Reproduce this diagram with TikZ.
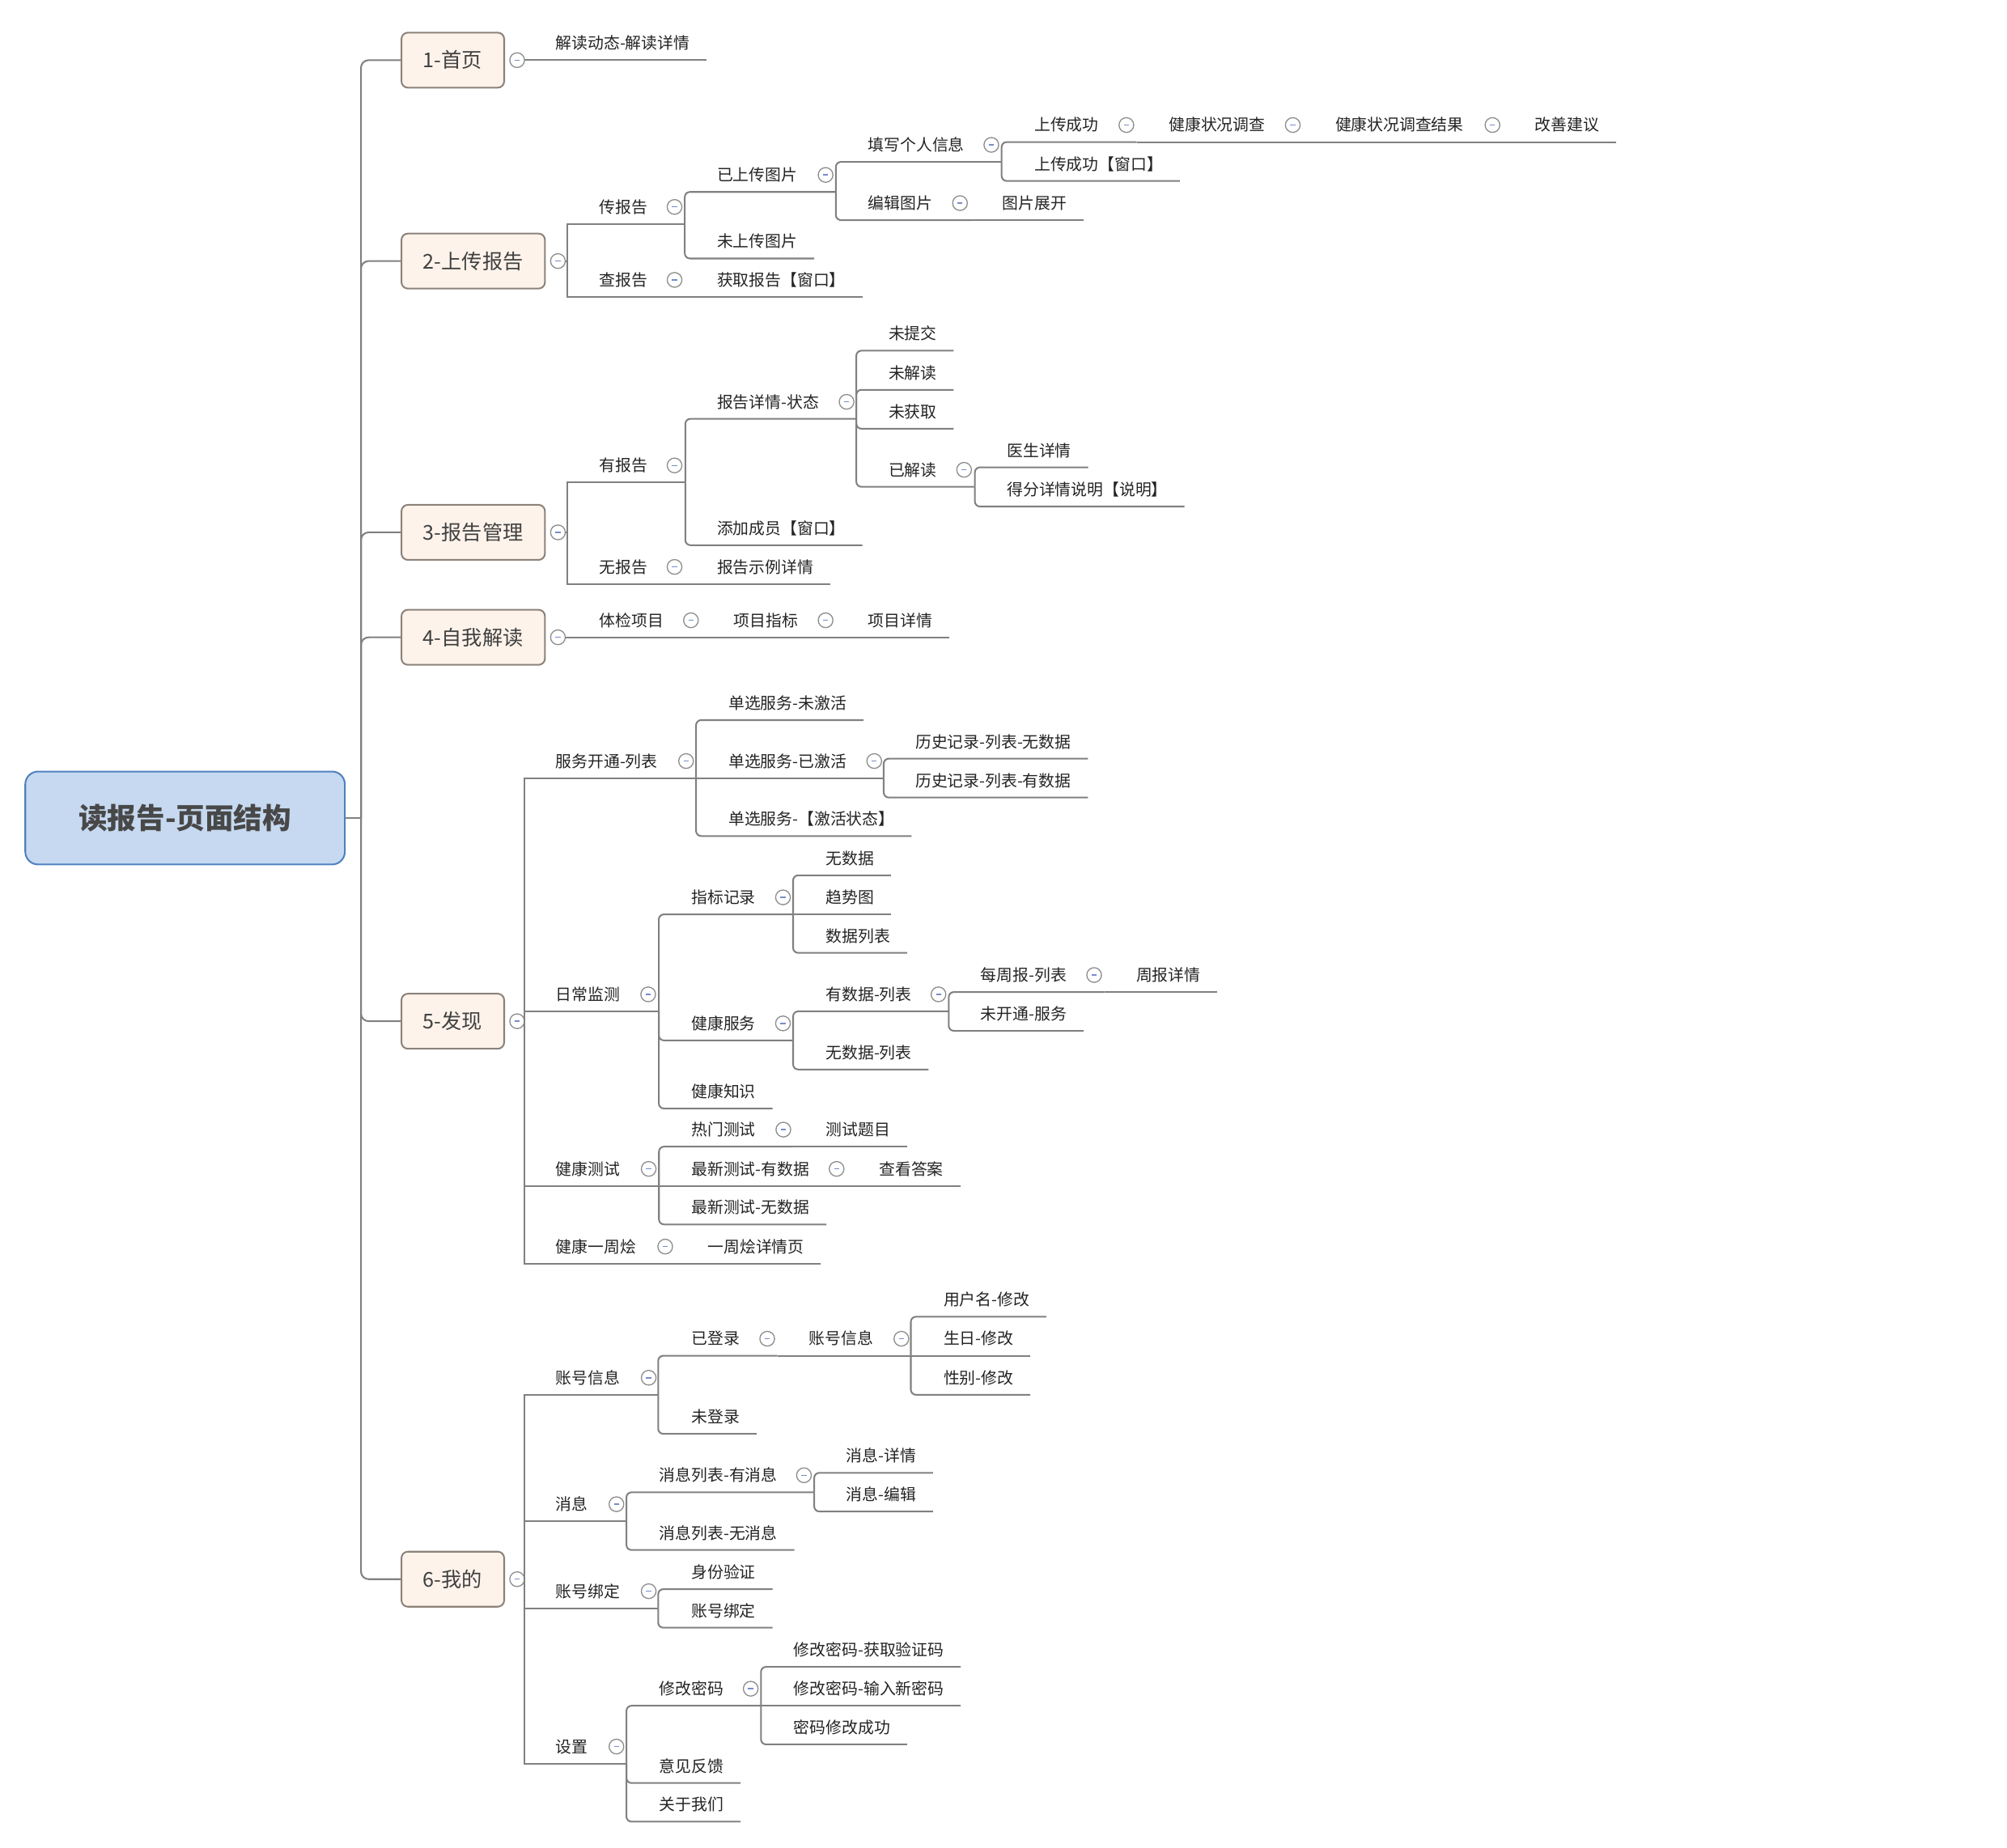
\documentclass[tikz,border=0pt]{standalone}
\usepackage{fontspec}
\setmainfont{Noto Sans CJK SC}
\usetikzlibrary{positioning,calc}
\definecolor{mmline}{RGB}{128,128,128}
\definecolor{mmtext}{RGB}{35,35,35}
\definecolor{mmfold}{RGB}{140,140,140}
\definecolor{mmminus}{RGB}{120,140,200}
\definecolor{topicfill}{RGB}{253,243,234}
\definecolor{topicdraw}{RGB}{140,130,122}
\definecolor{rootfill}{RGB}{198,217,240}
\definecolor{rootdraw}{RGB}{79,129,189}
\definecolor{roottext}{RGB}{72,72,72}

\tikzset{
  lbl/.style={font=\fontsize{10.7pt}{12pt}\selectfont, text=mmtext, anchor=base west, inner sep=0pt},
  ln/.style={draw=mmline, line width=1.1pt, rounded corners=1.2mm},
  fold/.style={circle, draw=mmfold, fill=white, line width=0.7pt, minimum size=3.45mm, inner sep=0pt,
    path picture={\draw[mmminus, line width=0.8pt] ($(path picture bounding box.center)+(-0.6mm,0)$) -- ++(1.2mm,0);}},
  topic/.style={draw=topicdraw, fill=topicfill, line width=1.1pt, rounded corners=1.5mm, anchor=west,
    font=\fontsize{13.6pt}{16pt}\selectfont, text=black!75, minimum height=12.9mm, inner xsep=5.1mm, inner ysep=0pt},
  rootbox/.style={draw=rootdraw, fill=rootfill, line width=1.1pt, rounded corners=3mm,
    font=\fontsize{19.2pt}{22pt}\selectfont\bfseries, text=roottext, minimum width=74.9mm, minimum height=21.8mm}
}

% leaf: name, parent branch, x, underline y, text
\newcommand{\leafnode}[6][]{%
  \node[lbl] (#2) at (#4,#5-8.6) {#6};
  \draw[ln,#1] (#3) |- ($(#2.base east)+(13,8.6)$);}
% inner node: name, parent branch, x, underline y, text, fold x, branch x
\newcommand{\midnode}[8][]{%
  \node[lbl] (#2) at (#4,#5-8.6) {#6};
  \node[fold] (#2-f) at (#7,#5-13.3) {};
  \coordinate (#2-b) at (#8,#5);
  \draw[ln,#1] (#3) |- (#2-b);}

\begin{document}
\begin{tikzpicture}[x=0.3mm,y=-0.3mm]
  \useasboundingbox (0,0) rectangle (1568,1444);

  % Root
  \node[rootbox] (root) at (144.6,639.2) {读报告-页面结构};
  \coordinate (rootb) at (282,639.2);
  \draw[ln] (root.east) -- (rootb);

  % Main topics
  \foreach \i/\txt/\yy in {1/1-首页/47, 2/2-上传报告/204, 3/3-报告管理/416,
                           4/4-自我解读/498, 5/5-发现/798, 6/6-我的/1234}{
    \node[topic] (t\i) at (313,\yy) {\txt};
    \node[fold, right=1mm of t\i] (f\i) {};
    \draw[ln, rounded corners=1.8mm] (rootb) |- (t\i.west);
  }
  \coordinate (b2) at (443,204);
  \coordinate (b3) at (443,416);
  \coordinate (b5) at (410,798);
  \coordinate (b6) at (410,1234);
  \foreach \i in {2,3,5,6}{\draw[ln] (f\i) -- (b\i);}

  % 1-首页
  \leafnode[sharp corners]{n1a}{f1.east}{434}{47}{解读动态-解读详情}

  % 2-上传报告
  \midnode[sharp corners]{n2a}{b2}{468}{175}{传报告}{527}{535}
  \midnode{n2aa}{n2a-b}{560}{150}{已上传图片}{645}{653}
  \midnode{n2aaa}{n2aa-b}{678}{126.5}{填写个人信息}{774.5}{782.5}
  \midnode{n2aaaa}{n2aaa-b}{808}{111}{上传成功}{880}{888}
  \midnode[sharp corners]{n2aaaaa}{n2aaaa-b}{913}{111}{健康状况调查}{1010}{1018}
  \midnode[sharp corners]{n2aaaaaa}{n2aaaaa-b}{1043}{111}{健康状况调查结果}{1166}{1174}
  \leafnode[sharp corners]{n2aaaaaaa}{n2aaaaaa-b}{1199}{111}{改善建议}
  \leafnode{n2aaab}{n2aaa-b}{808}{141.4}{上传成功【窗口】}
  \midnode{n2aab}{n2aa-b}{678}{172}{编辑图片}{750}{758}
  \leafnode[sharp corners]{n2aaba}{n2aab-b}{783}{172}{图片展开}
  \leafnode{n2ab}{n2a-b}{560}{202}{未上传图片}
  \midnode[sharp corners]{n2b}{b2}{468}{232}{查报告}{527}{535}
  \leafnode[sharp corners]{n2ba}{n2b-b}{560}{232}{获取报告【窗口】}

  % 3-报告管理
  \midnode[sharp corners]{n3a}{b3}{468}{377}{有报告}{527}{535.4}
  \midnode{n3aa}{n3a-b}{560}{327.3}{报告详情-状态}{661.4}{669}
  \leafnode{n3aaa}{n3aa-b}{694}{274}{未提交}
  \leafnode{n3aab}{n3aa-b}{694}{304.6}{未解读}
  \leafnode{n3aac}{n3aa-b}{694}{335}{未获取}
  \midnode{n3aad}{n3aa-b}{694}{380.4}{已解读}{753.2}{761.6}
  \leafnode{n3aada}{n3aad-b}{786.6}{365.2}{医生详情}
  \leafnode{n3aadb}{n3aad-b}{786.6}{395.8}{得分详情说明【说明】}
  \leafnode{n3ab}{n3a-b}{560}{426}{添加成员【窗口】}
  \midnode[sharp corners]{n3b}{b3}{468}{456.3}{无报告}{527}{535}
  \leafnode[sharp corners]{n3ba}{n3b-b}{560}{456.3}{报告示例详情}

  % 4-自我解读
  \midnode[sharp corners]{n4a}{f4.east}{468}{498}{体检项目}{539.8}{548}
  \midnode[sharp corners]{n4aa}{n4a-b}{573}{498}{项目指标}{645}{653}
  \leafnode[sharp corners]{n4aaa}{n4aa-b}{678}{498}{项目详情}

  % 5-发现
  \midnode[sharp corners]{n5a}{b5}{434}{608}{服务开通-列表}{536}{543.8}
  \leafnode{n5aa}{n5a-b}{569}{562.7}{单选服务-未激活}
  \midnode[sharp corners]{n5ab}{n5a-b}{569}{608}{单选服务-已激活}{683}{690.4}
  \leafnode{n5aba}{n5ab-b}{715}{592.8}{历史记录-列表-无数据}
  \leafnode{n5abb}{n5ab-b}{715}{623.2}{历史记录-列表-有数据}
  \leafnode{n5ac}{n5a-b}{569}{653.3}{单选服务-【激活状态】}
  \midnode[sharp corners]{n5b}{b5}{434}{790.3}{日常监测}{506.4}{514.7}
  \midnode{n5ba}{n5b-b}{540}{714.5}{指标记录}{611.7}{619.6}
  \leafnode{n5baa}{n5ba-b}{645}{684}{无数据}
  \leafnode[sharp corners]{n5bab}{n5ba-b}{645}{714.5}{趋势图}
  \leafnode{n5bac}{n5ba-b}{645}{744.6}{数据列表}
  \midnode{n5bb}{n5b-b}{540}{813}{健康服务}{611.7}{619.6}
  \midnode{n5bba}{n5bb-b}{645}{790.3}{有数据-列表}{733.2}{741.2}
  \midnode{n5bbaa}{n5bba-b}{766}{775.2}{每周报-列表}{854.8}{862.8}
  \leafnode[sharp corners]{n5bbaaa}{n5bbaa-b}{887.5}{775.2}{周报详情}
  \leafnode{n5bbab}{n5bba-b}{766}{805.5}{未开通-服务}
  \leafnode{n5bbb}{n5bb-b}{645}{835.7}{无数据-列表}
  \leafnode{n5bc}{n5b-b}{540}{866.2}{健康知识}
  \midnode[sharp corners]{n5c}{b5}{434}{926.7}{健康测试}{506.8}{514.8}
  \midnode{n5ca}{n5c-b}{540}{896}{热门测试}{612}{620}
  \leafnode[sharp corners]{n5caa}{n5ca-b}{645}{896}{测试题目}
  \midnode[sharp corners]{n5cb}{n5c-b}{540}{926.7}{最新测试-有数据}{653.6}{661.6}
  \leafnode[sharp corners]{n5cba}{n5cb-b}{686.7}{926.7}{查看答案}
  \leafnode{n5cc}{n5c-b}{540}{956.8}{最新测试-无数据}
  \midnode[sharp corners]{n5d}{b5}{434}{987.4}{健康一周烩}{519.7}{527.7}
  \leafnode[sharp corners]{n5da}{n5d-b}{552.7}{987.4}{一周烩详情页}

  % 6-我的
  \midnode[sharp corners]{n6a}{b6}{434}{1089.9}{账号信息}{506.8}{514.2}
  \midnode{n6aa}{n6a-b}{540}{1059.4}{已登录}{599.4}{607.4}
  \midnode[sharp corners]{n6aaa}{n6aa-b}{632}{1059.4}{账号信息}{704.2}{711.6}
  \leafnode{n6aaaa}{n6aaa-b}{737}{1028.9}{用户名-修改}
  \leafnode[sharp corners]{n6aaab}{n6aaa-b}{737}{1059.4}{生日-修改}
  \leafnode{n6aaac}{n6aaa-b}{737}{1089.9}{性别-修改}
  \leafnode{n6ab}{n6a-b}{540}{1120.4}{未登录}
  \midnode[sharp corners]{n6b}{b6}{434}{1188.7}{消息}{481.6}{489.4}
  \midnode{n6ba}{n6b-b}{515}{1166.1}{消息列表-有消息}{628.1}{636.1}
  \leafnode{n6baa}{n6ba-b}{661}{1150.9}{消息-详情}
  \leafnode{n6bab}{n6ba-b}{661}{1181.1}{消息-编辑}
  \leafnode{n6bb}{n6b-b}{515}{1211.2}{消息列表-无消息}
  \midnode[sharp corners]{n6c}{b6}{434}{1256.7}{账号绑定}{506.8}{514.2}
  \leafnode{n6ca}{n6c-b}{540}{1241.8}{身份验证}
  \leafnode{n6cb}{n6c-b}{540}{1271.9}{账号绑定}
  \midnode[sharp corners]{n6d}{b6}{434}{1378.1}{设置}{481.6}{489.4}
  \midnode{n6da}{n6d-b}{515}{1332.9}{修改密码}{586.5}{594.5}
  \leafnode{n6daa}{n6da-b}{620}{1302.5}{修改密码-获取验证码}
  \leafnode[sharp corners]{n6dab}{n6da-b}{620}{1332.9}{修改密码-输入新密码}
  \leafnode{n6dac}{n6da-b}{620}{1363.1}{密码修改成功}
  \leafnode{n6db}{n6d-b}{515}{1393.3}{意见反馈}
  \leafnode{n6dc}{n6d-b}{515}{1423.5}{关于我们}
\end{tikzpicture}
\end{document}
